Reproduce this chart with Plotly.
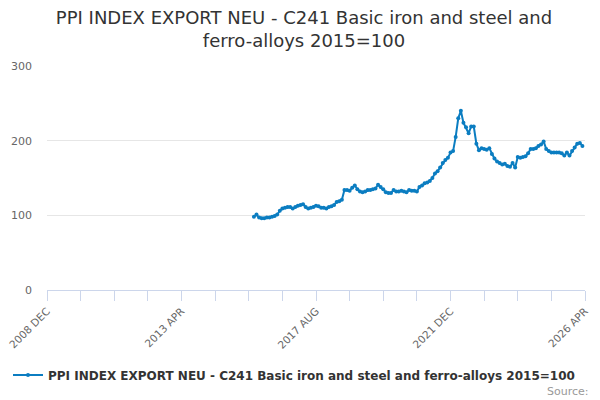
import pandas as pd
import plotly.graph_objects as go

# monthly categories on the x axis, 2008 DEC .. 2026 APR
months = [d.strftime("%Y %b").upper() for d in pd.date_range("2008-12-01", "2026-04-01", freq="MS")]

# series starts 2015 AUG and runs to 2026 MAR
first_month = "2015 AUG"
values = [
    98, 101, 97, 96, 96, 97, 97, 98, 99, 101,
    106, 109, 110, 111, 111, 109, 111, 113, 114, 115,
    111, 109, 110, 111, 113, 112, 110, 110, 109, 111,
    112, 114, 118, 119, 121, 134, 134, 133, 137, 140,
    135, 132, 131, 132, 134, 134, 135, 136, 141, 138,
    135, 131, 130, 130, 134, 132, 132, 133, 132, 131,
    134, 133, 133, 132, 138, 140, 143, 144, 146, 150,
    156, 159, 164, 170, 174, 177, 184, 186, 205, 230,
    240, 224, 218, 210, 219, 219, 196, 187, 190, 189,
    188, 190, 182, 176, 172, 170, 168, 169, 166, 165,
    170, 164, 178, 177, 178, 179, 183, 189, 189, 190,
    193, 195, 199, 189, 186, 184, 184, 184, 184, 183,
    180, 184, 180, 186, 191, 196, 197, 193,
]

start = months.index(first_month)
y = [None] * len(months)
y[start:start + len(values)] = values

series_name = "PPI INDEX EXPORT NEU - C241 Basic iron and steel and ferro-alloys 2015=100"
blue = "#0b7dc1"

# ticks every 13 months, labels every 4th tick
tick_idx = list(range(0, len(months), 13))
tick_txt = [months[i] if k % 4 == 0 else "" for k, i in enumerate(tick_idx)]

fig = go.Figure()
fig.add_trace(go.Scatter(
    x=list(range(len(months))),
    y=y,
    mode="lines+markers",
    name=series_name,
    line=dict(color=blue, width=2),
    marker=dict(color=blue, size=4),
    connectgaps=False,
))

# page body has an 8px margin, so the figure is 8px smaller than the window
fig.update_layout(
    width=592, height=392,
    margin=dict(l=39, r=15, t=58, b=109),
    paper_bgcolor="white", plot_bgcolor="white",
    font=dict(family="DejaVu Sans, sans-serif", color="#333333"),
    title=dict(
        text="PPI INDEX EXPORT NEU - C241 Basic iron and steel and<br>ferro-alloys 2015=100",
        x=0.5, xanchor="center", y=0.96, yanchor="top",
        font=dict(size=18, color="#333333"),
        automargin=False,
    ),
    showlegend=True,
    legend=dict(
        orientation="h", x=0.457, xanchor="center", y=-0.373, yanchor="middle",
        font=dict(size=12, color="#333333", weight="bold"),
    ),
    xaxis=dict(
        range=[0, len(months) - 1], automargin=False,
        tickmode="array", tickvals=tick_idx, ticktext=tick_txt,
        tickangle=-45, ticks="outside", ticklen=10, tickcolor="#ccd6eb",
        ticklabeloverflow="allow",
        showline=True, linecolor="#ccd6eb", linewidth=1,
        showgrid=False, zeroline=False,
        tickfont=dict(size=10.5, color="#666666"),
    ),
    yaxis=dict(
        range=[0, 300], tickvals=[0, 100, 200, 300], automargin=False,
        ticklabelstandoff=14,
        showgrid=True, gridcolor="#e6e6e6", zeroline=False,
        tickfont=dict(size=11, color="#666666"),
    ),
    annotations=[dict(
        text="Source:", xref="paper", yref="paper", x=1.011, y=-0.453,
        xanchor="right", yanchor="middle", showarrow=False,
        font=dict(size=11, color="#999999"),
    )],
)

fig.write_html("out.html")
